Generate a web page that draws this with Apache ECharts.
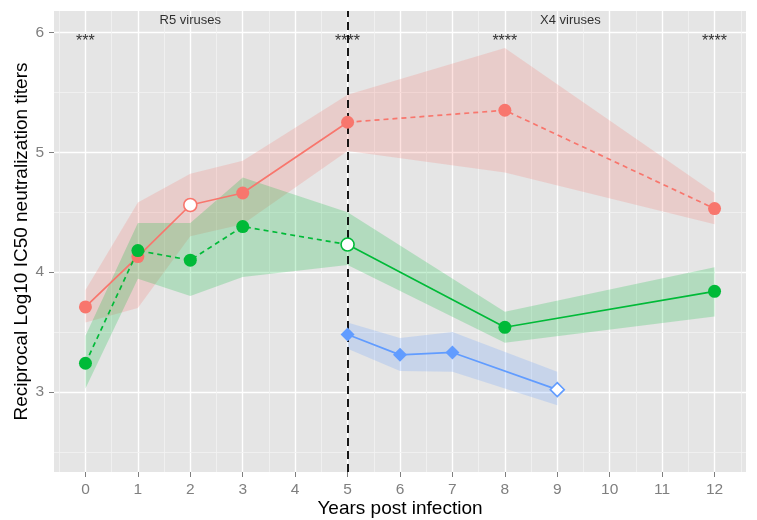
<!DOCTYPE html>
<html>
<head>
<meta charset="utf-8">
<script src="https://cdn.jsdelivr.net/npm/echarts@6/dist/echarts.min.js"></script>
<style>
html,body{margin:0;padding:0;background:#fff;}
#chart{width:757px;height:520px;}
</style>
</head>
<body>
<div id="chart"></div>
<script>
// ---- data ----
var redYears = [0, 1, 2, 3, 5, 8, 12];
var redMean  = [3.71, 4.13, 4.56, 4.66, 5.25, 5.35, 4.53];
var redLow   = [3.58, 3.70, 4.30, 4.40, 5.01, 4.83, 4.40];
var redHigh  = [3.85, 4.58, 4.82, 4.93, 5.48, 5.87, 4.66];
var redOpen  = [0, 0, 1, 0, 0, 0, 0];

var greenYears = [0, 1, 2, 3, 5, 8, 12];
var greenMean  = [3.24, 4.18, 4.10, 4.38, 4.23, 3.54, 3.84];
var greenLow   = [3.03, 3.945, 3.80, 3.96, 4.06, 3.41, 3.63];
var greenHigh  = [3.47, 4.41, 4.41, 4.79, 4.50, 3.67, 4.04];
var greenOpen  = [0, 0, 0, 0, 1, 0, 0];

var blueYears = [5, 6, 7, 9];
var blueMean  = [3.48, 3.31, 3.33, 3.02];
var blueLow   = [3.36, 3.175, 3.17, 2.89];
var blueHigh  = [3.58, 3.45, 3.50, 3.17];
var blueOpen  = [0, 0, 0, 1];

var splitYear = 5; // line style changes at this year

var xTicks = [0,1,2,3,4,5,6,7,8,9,10,11,12];
var xMinor = [-0.5,0.5,1.5,2.5,3.5,4.5,5.5,6.5,7.5,8.5,9.5,10.5,11.5,12.5];
var yTicks = [3,4,5,6];
var yMinor = [2.5,3.5,4.5,5.5];

var groupLabels = ['R5 viruses', 'X4 viruses'];
var groupX = [2, 9.25];
var groupY = [6.097, 6.097];

var starLabels = ['***', '****', '****', '****'];
var starX = [0, 5, 8, 12];
var starY = [5.921, 5.921, 5.921, 5.921];

// ---- helpers ----
var RED = '#F8766D', GREEN = '#00BA38', BLUE = '#619CFF';

function ribbon(years, low, high, color) {
  return {
    type: 'custom',
    silent: true,
    z: 1,
    data: years.map(function (x, i) { return [x, low[i], high[i]]; }),
    renderItem: function (params, api) {
      if (params.dataIndex !== 0) return;
      var pts = [];
      for (var i = 0; i < years.length; i++) pts.push(api.coord([years[i], high[i]]));
      for (var j = years.length - 1; j >= 0; j--) pts.push(api.coord([years[j], low[j]]));
      return {
        type: 'polygon',
        shape: { points: pts },
        style: { fill: color, opacity: 0.22 }
      };
    }
  };
}

function segment(years, vals, fromYear, toYear, color, dashed) {
  var d = [];
  for (var i = 0; i < years.length; i++) {
    if (years[i] >= fromYear && years[i] <= toYear) d.push([years[i], vals[i]]);
  }
  return {
    type: 'line', data: d, symbol: 'none', silent: true, z: 3,
    lineStyle: { color: color, width: 1.7, type: dashed ? [5, 4] : 'solid' }
  };
}

function points(years, vals, open, color, symbol, size) {
  return {
    type: 'scatter', symbol: symbol, symbolSize: size, silent: true, z: 6,
    data: years.map(function (x, i) {
      return {
        value: [x, vals[i]],
        itemStyle: open[i]
          ? { color: '#ffffff', borderColor: color, borderWidth: 1.6, opacity: 1 }
          : { color: color, borderWidth: 0, opacity: 1 }
      };
    })
  };
}

function textSeries(xs, ys, labels, size) {
  return {
    type: 'scatter', symbolSize: 1, silent: true, z: 7,
    itemStyle: { color: 'rgba(0,0,0,0)' },
    label: {
      show: true, position: 'inside',
      formatter: function (p) { return labels[p.dataIndex]; },
      color: '#000', fontSize: size, fontFamily: 'Liberation Sans, Arial, sans-serif'
    },
    data: xs.map(function (x, i) { return [x, ys[i]]; })
  };
}

var FONT = 'Liberation Sans, Arial, sans-serif';
var NOLINE = { show: false, onZero: false };
var chart = echarts.init(document.getElementById('chart'), null, { renderer: 'canvas' });

var minorLines = xMinor.map(function (v) { return { xAxis: v }; })
  .concat(yMinor.map(function (v) { return { yAxis: v }; }));

var option = {
  animation: false,
  grid: {
    left: 54, right: 11, top: 11, bottom: 48,
    outerBoundsMode: 'none',
    show: true, backgroundColor: '#E5E5E5', borderWidth: 0, borderColor: 'rgba(0,0,0,0)'
  },
  xAxis: {
    type: 'value', min: -0.6, max: 12.6,
    axisLine: NOLINE,
    axisTick: { show: true, length: 5, customValues: xTicks, lineStyle: { color: '#7F7F7F', width: 1 } },
    axisLabel: { customValues: xTicks, color: '#7F7F7F', fontSize: 15.5, fontFamily: FONT, margin: 10 },
    splitLine: { show: true, lineStyle: { color: '#FFFFFF', width: 1.4 } },
    name: 'Years post infection', nameLocation: 'middle', nameGap: 27, nameMoveOverlap: false,
    nameTextStyle: { color: '#000', fontSize: 19, fontFamily: FONT }
  },
  yAxis: {
    type: 'value', min: 2.333, max: 6.178,
    axisLine: NOLINE,
    axisTick: { show: true, length: 5, customValues: yTicks, lineStyle: { color: '#7F7F7F', width: 1 } },
    axisLabel: { customValues: yTicks, color: '#7F7F7F', fontSize: 15.5, fontFamily: FONT, margin: 10 },
    splitLine: { show: true, lineStyle: { color: '#FFFFFF', width: 1.4 } },
    name: 'Reciprocal Log10 IC50 neutralization titers', nameLocation: 'middle', nameGap: 23, nameMoveOverlap: false,
    nameTextStyle: { color: '#000', fontSize: 19, fontFamily: FONT }
  },
  series: [
    {
      type: 'line', data: [], silent: true, z: 0,
      markLine: {
        silent: true, symbol: 'none', label: { show: false }, z: 0,
        lineStyle: { color: '#F2F2F2', width: 0.8, type: 'solid' },
        data: minorLines
      }
    },
    ribbon(redYears, redLow, redHigh, RED),
    ribbon(greenYears, greenLow, greenHigh, GREEN),
    ribbon(blueYears, blueLow, blueHigh, BLUE),
    segment(redYears, redMean, -1, splitYear, RED, false),
    segment(redYears, redMean, splitYear, 99, RED, true),
    segment(greenYears, greenMean, -1, splitYear, GREEN, true),
    segment(greenYears, greenMean, splitYear, 99, GREEN, false),
    segment(blueYears, blueMean, -1, 99, BLUE, false),
    {
      type: 'line', data: [], silent: true, z: 4,
      markLine: {
        silent: true, symbol: 'none', label: { show: false }, z: 4,
        lineStyle: { color: '#000', width: 1.8, type: [8, 5] },
        data: [{ xAxis: splitYear }]
      }
    },
    points(redYears, redMean, redOpen, RED, 'circle', 13),
    points(greenYears, greenMean, greenOpen, GREEN, 'circle', 13),
    points(blueYears, blueMean, blueOpen, BLUE, 'diamond', 14),
    textSeries(groupX, groupY, groupLabels, 13),
    textSeries(starX, starY, starLabels, 16)
  ]
};
chart.setOption(option);
</script>
</body>
</html>
